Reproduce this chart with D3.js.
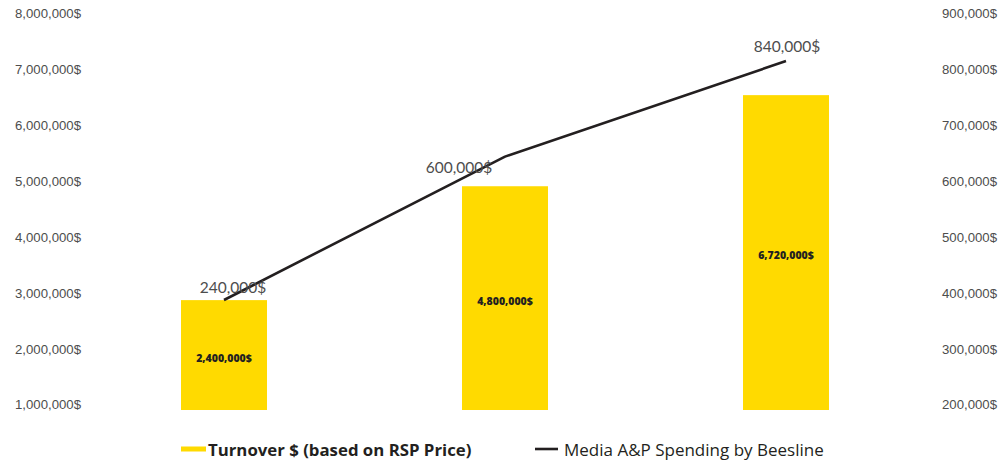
<!DOCTYPE html>
<html>
<head>
<meta charset="utf-8">
<script src="https://cdn.jsdelivr.net/npm/d3@7"></script>
<style>
  html, body { margin: 0; padding: 0; background: #fff; }
  svg { display: block; font-family: Lato, "Open Sans", sans-serif; }
</style>
</head>
<body>
<svg id="chart" width="998" height="461"></svg>
<script>
// Categories (three periods shown as three columns)
const categories = ["Year 1", "Year 2", "Year 3"];
// Turnover $ (based on RSP Price)
const turnover = [2400000, 4800000, 6720000];
// Media A&P Spending by Beesline
const mediaSpend = [240000, 600000, 840000];
// Axis ticks
const leftTicks = [1000000, 2000000, 3000000, 4000000, 5000000, 6000000, 7000000, 8000000];
const rightTicks = [200000, 300000, 400000, 500000, 600000, 700000, 800000, 900000];

const W = 998, H = 461;
const svg = d3.select("#chart");

const fmt = v => d3.format(",")(v) + "$";

const plotBottom = 410;
const axisTop = 13.3, axisBottom = 404.3;

// Axis scales
const yLeft = d3.scaleLinear().domain([1000000, 8000000]).range([axisBottom, axisTop]);
const yRight = d3.scaleLinear().domain([200000, 900000]).range([axisBottom, axisTop]);

// Column and line value scales
const yBar = d3.scaleLinear().domain([0, 8000000]).range([414, 414 - 8 * 47.45]);
const yLine = d3.scaleLinear().domain([0, 900000]).range([395.6, 395.6 - 900 * 0.3983]);

const x = d3.scaleBand().domain(categories).range([83.5, 926.5])
  .paddingInner(0.694).paddingOuter(0.347);

// Left axis
const gl = svg.append("g").attr("transform", "translate(81,0)")
  .call(d3.axisLeft(yLeft).tickValues(leftTicks).tickFormat(fmt).tickSize(0).tickPadding(0));
gl.select(".domain").remove();
gl.selectAll("text").attr("fill", "#4d4d4d").attr("font-size", 13.2).attr("dy", "0.35em");

// Right axis
const gr = svg.append("g").attr("transform", "translate(997,0)")
  .call(d3.axisLeft(yRight).tickValues(rightTicks).tickFormat(fmt).tickSize(0).tickPadding(0));
gr.select(".domain").remove();
gr.selectAll("text").attr("fill", "#4d4d4d").attr("font-size", 13.2).attr("dy", "0.35em");

// Columns
svg.append("g").selectAll("rect").data(categories).join("rect")
  .attr("x", d => x(d))
  .attr("width", x.bandwidth())
  .attr("y", (d, i) => yBar(turnover[i]))
  .attr("height", (d, i) => plotBottom - yBar(turnover[i]))
  .attr("fill", "#FFDA00");

// Column value labels
svg.append("g").selectAll("text").data(categories).join("text")
  .attr("x", d => x(d) + x.bandwidth() / 2)
  .attr("y", (d, i) => (yBar(turnover[i]) + plotBottom) / 2 + 3)
  .attr("dy", "0.35em")
  .attr("text-anchor", "middle")
  .attr("font-family", "'Open Sans', sans-serif")
  .attr("font-size", 10.5)
  .attr("font-weight", 800)
  .attr("fill", "#231F20")
  .text((d, i) => fmt(turnover[i]));

// Spending line
const pts = categories.map((c, i) => [x(c) + x.bandwidth() / 2, yLine(mediaSpend[i])]);
svg.append("path")
  .attr("d", d3.line()(pts))
  .attr("fill", "none")
  .attr("stroke", "#231F20")
  .attr("stroke-width", 2.6)
  .attr("stroke-linejoin", "round");

// Line value labels, nudged so they sit clear of the stroke
const labelNudge = [[9, -7], [-46, 16], [1, -9]];
svg.append("g").selectAll("text").data(categories).join("text")
  .attr("x", (d, i) => pts[i][0] + labelNudge[i][0])
  .attr("y", (d, i) => pts[i][1] + labelNudge[i][1])
  .attr("text-anchor", "middle")
  .attr("font-size", 15.5)
  .attr("fill", "#4d4d4d")
  .text((d, i) => fmt(mediaSpend[i]));

// Legend
const lg = svg.append("g").attr("font-family", "'Open Sans', sans-serif");
lg.append("rect").attr("x", 181).attr("y", 446.5).attr("width", 25).attr("height", 5).attr("fill", "#FFDA00");
lg.append("text").attr("x", 208).attr("y", 455.5).attr("font-size", 16.8).attr("font-weight", 700)
  .attr("fill", "#231F20").text("Turnover $ (based on RSP Price)");
lg.append("line").attr("x1", 535).attr("x2", 558).attr("y1", 449).attr("y2", 449)
  .attr("stroke", "#231F20").attr("stroke-width", 2.6);
lg.append("text").attr("x", 564).attr("y", 455.5).attr("font-size", 17)
  .attr("fill", "#231F20").text("Media A&P Spending by Beesline");
</script>
</body>
</html>
